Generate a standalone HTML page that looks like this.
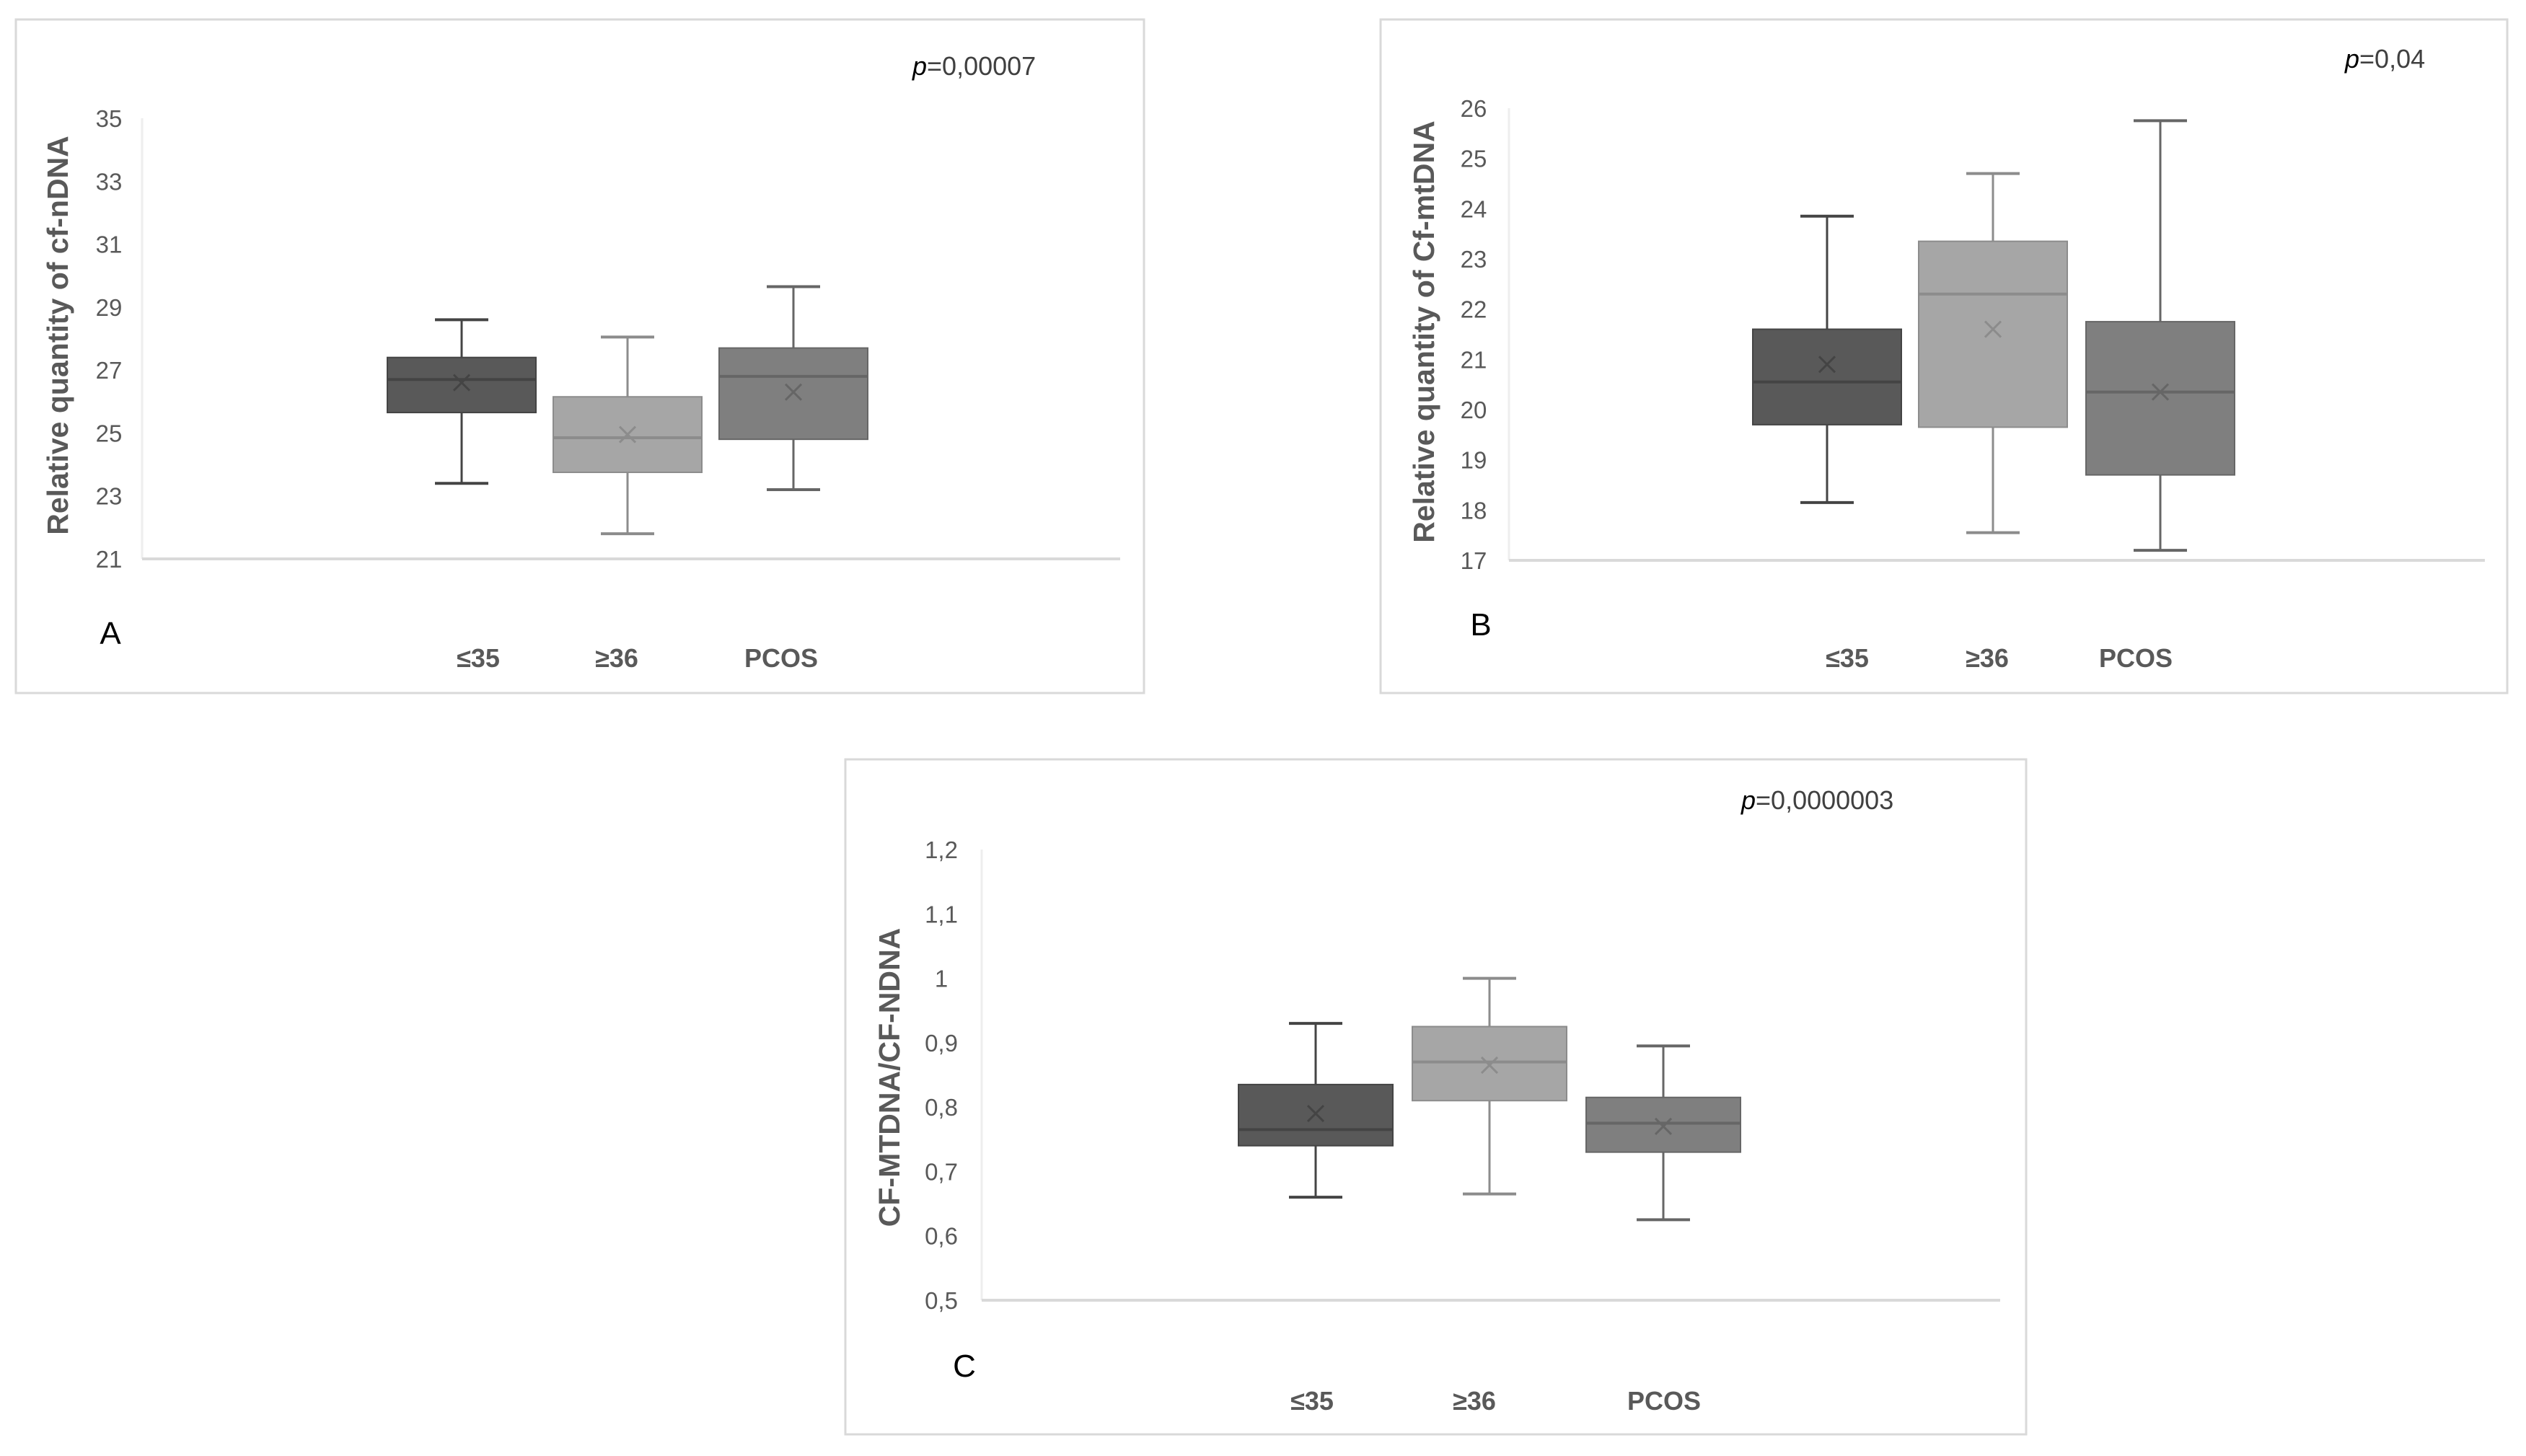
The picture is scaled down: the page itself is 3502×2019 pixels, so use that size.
<!DOCTYPE html>
<html><head><meta charset="utf-8"><style>
html,body{margin:0;padding:0;background:#fff;}
svg{display:block;}
text{font-family:"Liberation Sans",sans-serif;}
</style></head><body>
<svg id="chart" width="3502" height="2019" viewBox="0 0 3502 2019">
<rect width="3502" height="2019" fill="#fff"/>
</svg>
<script>
const categories = ["≤35", "≥36", "PCOS"];
const panelLetters = ["A", "B", "C"];
const pLabels = ["=0,00007", "=0,04", "=0,0000003"];
const yTitles = ["Relative quantity of cf-nDNA", "Relative quantity of Cf-mtDNA", "CF-MTDNA/CF-NDNA"];
const ticksA = [21, 23, 25, 27, 29, 31, 33, 35];
const ticksB = [17, 18, 19, 20, 21, 22, 23, 24, 25, 26];
const ticksC = [0.5, 0.6, 0.7, 0.8, 0.9, 1, 1.1, 1.2];
const tickLabelsC = ["0,5", "0,6", "0,7", "0,8", "0,9", "1", "1,1", "1,2"];
// [min, q1, median, q3, max, mean] per category
const statsA = [[23.4, 25.65, 26.7, 27.4, 28.6, 26.6], [21.8, 23.75, 24.85, 26.15, 28.05, 24.95], [23.2, 24.8, 26.8, 27.7, 29.65, 26.3]];
const statsB = [[18.15, 19.7, 20.55, 21.6, 23.85, 20.9], [17.55, 19.65, 22.3, 23.35, 24.7, 21.6], [17.2, 18.7, 20.35, 21.75, 25.75, 20.35]];
const statsC = [[0.66, 0.74, 0.765, 0.835, 0.93, 0.79], [0.665, 0.81, 0.87, 0.925, 1.0, 0.865], [0.625, 0.73, 0.775, 0.815, 0.895, 0.77]];

const fills = ["#595959", "#a6a6a6", "#7f7f7f"];
const lines = ["#444", "#8c8c8c", "#666"];
const svg = document.getElementById('chart');
const NS = 'http://www.w3.org/2000/svg';
function mk(tag, attrs, parent, txt) {
  const e = document.createElementNS(NS, tag);
  for (const k in attrs) e.setAttribute(k, attrs[k]);
  if (txt !== undefined) e.textContent = txt;
  (parent || svg).appendChild(e);
  return e;
}
const panels = [
  {frame:[22,27,1564,934], ax:[197,1553], y0:775, y1:164, vmin:21, vmax:35, ticks:ticksA, tl:ticksA.map(String), tickX:151,
   cx:[640,870,1100], bw:206, stats:statsA, catY:925, catX:[663,855,1083], letter:[153,893], p:[1265,104], titleX:80, titleY:465},
  {frame:[1914,27,1562,934], ax:[2092,3445], y0:777, y1:150, vmin:17, vmax:26, ticks:ticksB, tl:ticksB.map(String), tickX:2043,
   cx:[2533,2763,2995], bw:206, stats:statsB, catY:925, catX:[2561,2755,2961], letter:[2053,881], p:[3251,94], titleX:1974, titleY:460},
  {frame:[1172,1053,1637,936], ax:[1361,2773], y0:1803, y1:1178, vmin:0.5, vmax:1.2, ticks:ticksC, tl:tickLabelsC, tickX:1305,
   cx:[1824,2065,2306], bw:214, stats:statsC, catY:1955, catX:[1819,2044,2307], letter:[1337,1909], p:[2414,1122], titleX:1233, titleY:1494}
];
panels.forEach((P, pi) => {
  const g = mk('g', {});
  
  
  const f = mk('rect', {x:P.frame[0], y:P.frame[1], width:P.frame[2], height:P.frame[3], fill:'#fff', stroke:'#d9d9d9', 'stroke-width':3}, g);
  
  
  const ys = v => P.y0 + (v - P.vmin) / (P.vmax - P.vmin) * (P.y1 - P.y0);
  const axl = mk('line', {x1:P.ax[0], y1:ys(P.vmax), x2:P.ax[0], y2:P.y0, stroke:'#eeeeee', 'stroke-width':3}, g);
  
  
  const base = mk('line', {x1:P.ax[0], y1:P.y0, x2:P.ax[1], y2:P.y0, stroke:'#d9d9d9', 'stroke-width':4}, g);
  
  
  P.ticks.forEach((t, i) => {
    const tx = mk('text', {x:P.tickX, y:ys(t) + 12, 'text-anchor':'middle', 'font-size':33, fill:'#595959'}, g, P.tl[i]);
    
    
  });
  const yt = mk('text', {x:P.titleX, y:P.titleY, 'text-anchor':'middle', 'font-size':41, 'font-weight':'bold', fill:'#595959', transform:`rotate(-90 ${P.titleX} ${P.titleY})`, dy:14}, g, yTitles[pi]);
  
  
  P.stats.forEach((s, i) => {
    const cx = P.cx[i], hw = P.bw / 2, cw = 37;
    const bg = mk('g', {}, g);
    
    
    const wl = mk('line', {x1:cx, y1:ys(s[4]), x2:cx, y2:ys(s[0]), stroke:lines[i], 'stroke-width':3}, bg);
    
    
    [s[0], s[4]].forEach(v => {
      const c = mk('line', {x1:cx - cw, y1:ys(v), x2:cx + cw, y2:ys(v), stroke:lines[i], 'stroke-width':4}, bg);
      
      
    });
    const r = mk('rect', {x:cx - hw, y:ys(s[3]), width:P.bw, height:ys(s[1]) - ys(s[3]), fill:fills[i], stroke:lines[i], 'stroke-width':2}, bg);
    
    
    const m = mk('line', {x1:cx - hw, y1:ys(s[2]), x2:cx + hw, y2:ys(s[2]), stroke:lines[i], 'stroke-width':4}, bg);
    
    
    const my = ys(s[5]);
    const mx = mk('path', {d:`M${cx-11},${my-11}L${cx+11},${my+11}M${cx+11},${my-11}L${cx-11},${my+11}`, stroke:lines[i], 'stroke-width':3}, bg);
    
    
    const cl = mk('text', {x:P.catX[i], y:P.catY, 'text-anchor':'middle', 'font-size':36, 'font-weight':'bold', fill:'#595959'}, g, categories[i]);
    
    
  });
  const lt = mk('text', {x:P.letter[0], y:P.letter[1], 'text-anchor':'middle', 'font-size':44, fill:'#000'}, g, panelLetters[pi]);
  
  
  const pt = mk('text', {x:P.p[0], y:P.p[1], 'font-size':36, fill:'#404040'}, g);
  
  
  mk('tspan', {'font-style':'italic', fill:'#000'}, pt, 'p');
  mk('tspan', {}, pt, pLabels[pi]);
});
</script>
</body></html>
